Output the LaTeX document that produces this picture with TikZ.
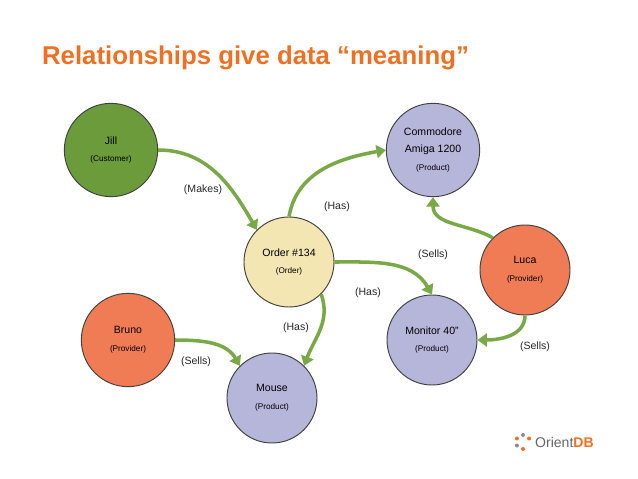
\documentclass[tikz,border=0pt]{standalone}
\usepackage{fontspec}
\setmainfont{Liberation Sans}
\usetikzlibrary{arrows.meta}
\definecolor{titleorange}{HTML}{F07023}
\definecolor{jillgreen}{HTML}{6B9B3A}
\definecolor{prodblue}{HTML}{B6B5DA}
\definecolor{ordyellow}{HTML}{F3E6B3}
\definecolor{provorange}{HTML}{F07C55}
\definecolor{linkgreen}{HTML}{79A847}
\newcommand\sm{\fontsize{7}{9}\selectfont}
\begin{document}
\begin{tikzpicture}[x=0.03cm,y=-0.03cm,
  vertex/.style={circle,draw=black!75,line width=0.8pt,minimum size=2.8cm,align=center,inner sep=0pt,
    font=\fontsize{9}{15}\selectfont},
  link/.style={draw=linkgreen,line width=3pt,-{Triangle[length=8pt,width=11pt]}},
  lbl/.style={font=\fontsize{9}{11}\selectfont,text=black!85}]

\useasboundingbox (0,0) rectangle (638,479);

% ---------- title ----------
\node[anchor=west,font=\bfseries\fontsize{22}{26}\selectfont,text=titleorange] (title) at (38,58)
  {Relationships give data “meaning”};

% ---------- vertices ----------
\node[vertex,fill=jillgreen] (jill) at (111,150) {Jill\\\sm(Customer)};
\node[vertex,fill=prodblue] (amiga) at (433,150) {Commodore\\Amiga 1200\\\sm(Product)};
\node[vertex,fill=ordyellow,minimum size=2.7cm] (order) at (289,262) {Order \#134\\\sm(Order)};
\node[vertex,fill=provorange,minimum size=2.7cm] (luca) at (525,270) {Luca\\\sm(Provider)};
\node[vertex,fill=provorange] (bruno) at (128,340) {Bruno\\\sm(Provider)};
\node[vertex,fill=prodblue,minimum size=2.7cm] (monitor) at (432,340) {Monitor 40”\\\sm(Product)};
\node[vertex,fill=prodblue,minimum size=2.7cm] (mouse) at (272,398) {Mouse\\\sm(Product)};

% ---------- relationships ----------
\draw[link] (jill.east) to[out=0,in=120] (order.north west);
\draw[link] (order.north) to[out=80,in=190] (amiga.west);
\draw[link] (luca.north west) to[out=150,in=270] (amiga.south);
\draw[link] (order.east) to[out=0,in=120] (monitor.north);
\draw[link] (luca.south) to[out=270,in=0] (monitor.east);
\draw[link] (order.south east) to[out=290,in=70] (mouse.north east);
\draw[link] (bruno.east) to[out=0,in=120] (mouse.north west);

% ---------- labels ----------
\node[lbl] (lmakes) at (203,190) {(Makes)};
\node[lbl] (lhas1) at (337,207) {(Has)};
\node[lbl] (lsells1) at (433,255) {(Sells)};
\node[lbl] (lhas2) at (368,293) {(Has)};
\node[lbl] (lsells2) at (535,347) {(Sells)};
\node[lbl] (lhas3) at (296,328) {(Has)};
\node[lbl] (lsells3) at (196,362) {(Sells)};

% ---------- logo ----------
\foreach \a/\c in {90/titleorange,150/black!45,210/titleorange,270/black!45,330/titleorange}
  \fill[\c] (523,442) ++(\a:7) circle (2);
\node[anchor=west,font=\fontsize{12}{14}\selectfont,text=black!60] (logo) at (531,442)
  {Orient\textcolor{titleorange}{\bfseries DB}};
\end{tikzpicture}
\end{document}
